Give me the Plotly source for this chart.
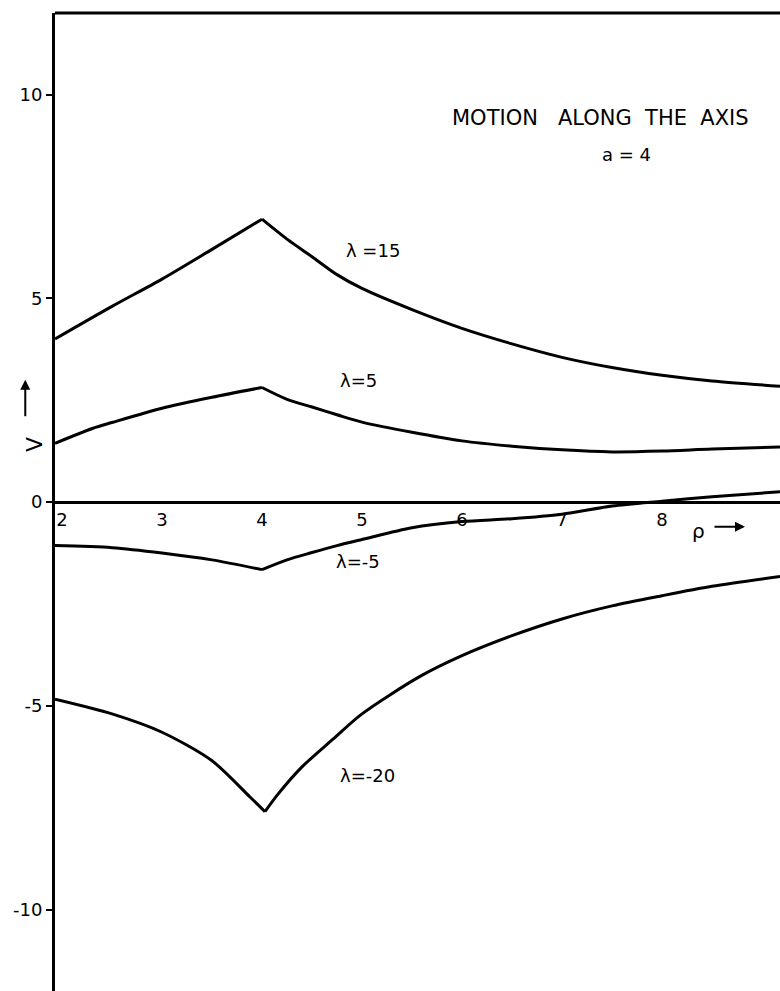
import plotly.graph_objects as go

# ---- data ----
x_l15 = [1.93, 2.5, 3.0, 3.5, 4.0, 4.25, 4.5, 4.75, 5.0, 5.5, 6.0, 6.5, 7.0, 7.5, 8.0, 8.5, 9.18]
v_l15 = [4.0, 4.8, 5.47, 6.2, 6.94, 6.45, 6.02, 5.58, 5.24, 4.72, 4.26, 3.88, 3.55, 3.30, 3.11, 2.97, 2.84]

x_l5 = [1.93, 2.31, 2.5, 3.0, 3.5, 4.0, 4.25, 4.5, 4.75, 5.0, 5.5, 6.0, 6.5, 7.0, 7.5, 8.0, 8.5, 9.18]
v_l5 = [1.44, 1.81, 1.95, 2.3, 2.57, 2.81, 2.52, 2.33, 2.14, 1.96, 1.71, 1.5, 1.37, 1.28, 1.23, 1.25, 1.3, 1.35]

x_lm5 = [1.93, 2.5, 3.0, 3.5, 4.0, 4.25, 4.5, 4.75, 5.0, 5.5, 6.0, 6.5, 7.0, 7.5, 8.0, 8.5, 9.18]
v_lm5 = [-1.07, -1.12, -1.25, -1.42, -1.66, -1.42, -1.24, -1.07, -0.92, -0.63, -0.48, -0.41, -0.3, -0.1, 0.02, 0.13, 0.25]

x_lm20 = [1.93, 2.5, 3.0, 3.5, 3.88, 4.03, 4.15, 4.4, 4.71, 5.0, 5.58, 6.0, 6.5, 7.0, 7.5, 8.0, 8.5, 9.18]
v_lm20 = [-4.84, -5.2, -5.65, -6.35, -7.24, -7.6, -7.2, -6.5, -5.82, -5.2, -4.28, -3.77, -3.28, -2.87, -2.55, -2.3, -2.07, -1.83]

x_ticks = [2, 3, 4, 5, 6, 7, 8]
y_ticks = [-10, -5, 0, 5, 10]
y_ticktext = ["-10", "-5", "0", "5", "10"]

# (x, v, label, label x, label y, index of the cusp)
series = [
    (x_l15, v_l15, "λ =15", 5.11, 6.18, 4),
    (x_l5, v_l5, "λ=5", 4.96, 2.99, 5),
    (x_lm5, v_lm5, "λ=-5", 4.96, -1.47, 4),
    (x_lm20, v_lm20, "λ=-20", 5.05, -6.7, 5),
]

FONT = "DejaVu Sans"

fig = go.Figure()
for xs, vs, name, lx, ly, k in series:
    for part_x, part_v in ((xs[:k + 1], vs[:k + 1]), (xs[k:], vs[k:])):
        fig.add_trace(go.Scatter(x=part_x, y=part_v, mode="lines", name=name,
                                 line=dict(color="black", width=3, shape="spline", smoothing=0.8),
                                 showlegend=False, hoverinfo="skip"))
    fig.add_annotation(x=lx, y=ly, text=name, showarrow=False,
                       font=dict(family=FONT, size=18, color="black"))

fig.add_annotation(x=7.38, y=9.42,
                   text="MOTION\u00a0\u00a0\u00a0ALONG\u00a0\u00a0THE\u00a0\u00a0AXIS",
                   showarrow=False, font=dict(family=FONT, size=21, color="black"))
fig.add_annotation(x=7.64, y=8.52, text="a = 4", showarrow=False,
                   font=dict(family=FONT, size=18, color="black"))

# y axis title "V" with arrow
fig.add_annotation(xref="paper", x=-0.049, y=1.42, yref="y", text="V", textangle=-90,
                   showarrow=False, font=dict(family=FONT, size=22, color="black"))
fig.add_annotation(xref="paper", x=-0.041, y=3.0, yref="y", text="", showarrow=True,
                   ax=0, ay=38, arrowhead=2, arrowsize=1, arrowwidth=2, arrowcolor="black")
# x axis title "ρ" with arrow
fig.add_annotation(x=8.36, y=-0.7, text="ρ", showarrow=False,
                   font=dict(family=FONT, size=20, color="black"))
fig.add_annotation(x=8.83, y=-0.61, text="", showarrow=True,
                   ax=-32, ay=0, arrowhead=2, arrowsize=1, arrowwidth=2, arrowcolor="black")

# top border
fig.add_shape(type="line", xref="paper", yref="paper", x0=0, x1=1, y0=1, y1=1,
              line=dict(color="black", width=3))

fig.update_layout(
    width=780, height=991,
    margin=dict(l=55, r=0, t=13, b=0),
    plot_bgcolor="white", paper_bgcolor="white",
    font=dict(family=FONT, color="black"),
    xaxis=dict(range=[1.93, 9.18], anchor="free", position=0.5,
               showline=True, linecolor="black", linewidth=3,
               showgrid=False, zeroline=False, ticks="",
               tickvals=x_ticks, tickfont=dict(family=FONT, size=18, color="black")),
    yaxis=dict(range=[-12, 12], showline=True, linecolor="black", linewidth=3,
               showgrid=False, zeroline=False, ticks="outside", ticklen=6, tickwidth=2,
               tickcolor="black",
               tickvals=y_ticks, ticktext=y_ticktext,
               tickfont=dict(family=FONT, size=18, color="black")),
)

fig.write_html("out.html", config={"displayModeBar": False},
               post_script="document.body.style.margin='0';document.body.style.overflow='hidden';")
